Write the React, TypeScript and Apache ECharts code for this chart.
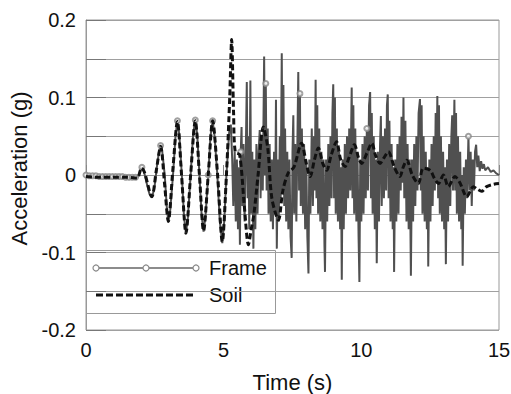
import React, { useEffect, useRef } from "react";
import * as echarts from "echarts";

// Soil acceleration record [time (s), acceleration (g)]
const soilData: [number, number][] = [
  [0, -0.002], [0.5, -0.003], [1.0, -0.003], [1.5, -0.003], [1.85, -0.004],
  [2.02, 0.009], [2.12, 0.004], [2.39, -0.028], [2.55, 0.005], [2.71, 0.037],
  [2.85, -0.01], [2.99, -0.06], [3.15, 0.005], [3.32, 0.069], [3.47, 0.0],
  [3.63, -0.075], [3.8, 0.0], [3.97, 0.07], [4.12, 0.0], [4.27, -0.072],
  [4.44, 0.0], [4.6, 0.07], [4.78, 0.0], [4.95, -0.086], [5.1, 0.0],
  [5.22, 0.1], [5.29, 0.175], [5.36, 0.08], [5.42, 0.03], [5.58, 0.026],
  [5.75, -0.04], [5.9, -0.09], [6.0, -0.07], [6.1, -0.05], [6.25, 0.0],
  [6.44, 0.062], [6.6, 0.035], [6.75, -0.03], [6.99, -0.058], [7.15, -0.02],
  [7.35, 0.003], [7.55, 0.01], [7.83, 0.041], [8.0, 0.015], [8.14, -0.002],
  [8.3, 0.02], [8.44, 0.035], [8.6, 0.015], [8.74, 0.006], [8.9, 0.025],
  [9.1, 0.043], [9.25, 0.02], [9.41, 0.011], [9.55, 0.022], [9.75, 0.039],
  [9.9, 0.022], [10.01, 0.015], [10.2, 0.028], [10.38, 0.041], [10.52, 0.025],
  [10.68, 0.015], [10.82, 0.022], [10.98, 0.03], [11.2, 0.01], [11.4, -0.002],
  [11.52, 0.01], [11.65, 0.019], [11.85, 0.0], [12.07, -0.011], [12.25, 0.009],
  [12.5, 0.006], [12.65, -0.004], [12.8, -0.011], [12.98, 0.0], [13.16, -0.015],
  [13.4, -0.002], [13.58, -0.01], [13.83, -0.028], [14.07, -0.015], [14.2, -0.018],
  [14.37, -0.021], [14.55, -0.015], [14.8, -0.012], [15.0, -0.011],
];

// Frame acceleration record [time (s), acceleration (g)]
const frameData: [number, number][] = [
  [0, 0], [0.3, -0.001], [0.6, -0.002], [0.9, -0.002], [1.2, -0.002], [1.5, -0.003],
  [1.8, -0.003], [1.9, -0.002], [1.97, 0.006], [2.03, 0.01], [2.1, 0.005], [2.2, -0.01],
  [2.3, -0.024], [2.39, -0.029], [2.48, -0.018], [2.58, 0.012], [2.65, 0.03], [2.71, 0.038],
  [2.77, 0.03], [2.86, 0.0], [2.93, -0.04], [2.99, -0.06], [3.06, -0.045], [3.16, 0.0],
  [3.25, 0.05], [3.32, 0.07], [3.39, 0.052], [3.48, 0.0], [3.56, -0.054], [3.63, -0.075],
  [3.7, -0.055], [3.8, 0.0], [3.89, 0.052], [3.97, 0.071], [4.04, 0.052], [4.12, 0.0],
  [4.2, -0.052], [4.27, -0.073], [4.34, -0.053], [4.44, 0.0], [4.52, 0.05], [4.6, 0.07],
  [4.67, 0.05], [4.77, 0.0], [4.86, -0.06], [4.95, -0.088], [5.02, -0.06], [5.1, 0.0],
  [5.2, 0.055], [5.26, 0.065], [5.31, 0.02], [5.35, -0.04], [5.4, 0.03], [5.44, -0.06],
  [5.48, 0.02], [5.52, -0.07], [5.56, 0.01], [5.59, -0.09], [5.62, 0.03], [5.65, 0.062],
  [5.68, -0.04], [5.72, 0.04], [5.76, -0.06], [5.8, 0.02], [5.84, 0.12], [5.87, -0.03],
  [5.9, 0.05], [5.93, -0.07], [5.97, 0.122], [6.0, -0.05], [6.04, 0.03], [6.08, -0.095],
  [6.11, 0.02], [6.15, -0.07], [6.19, 0.04], [6.23, -0.05], [6.27, 0.03], [6.31, 0.058],
  [6.34, -0.03], [6.38, 0.05], [6.42, -0.02], [6.47, 0.153], [6.5, 0.0], [6.53, 0.118],
  [6.56, -0.02], [6.6, 0.06], [6.63, -0.05], [6.67, 0.04], [6.71, -0.06], [6.75, 0.02],
  [6.79, -0.07], [6.83, 0.03], [6.87, -0.05], [6.9, 0.097], [6.93, -0.095], [6.97, 0.02],
  [7.0, -0.06], [7.04, 0.05], [7.07, -0.03], [7.11, 0.157], [7.14, -0.02], [7.17, 0.116],
  [7.2, -0.04], [7.23, 0.06], [7.27, -0.06], [7.31, 0.03], [7.35, -0.07], [7.39, 0.02],
  [7.43, -0.08], [7.47, -0.107], [7.5, 0.03], [7.53, 0.077], [7.56, -0.05], [7.6, 0.04],
  [7.64, -0.06], [7.68, 0.05], [7.71, 0.133], [7.74, -0.02], [7.77, 0.105], [7.8, -0.04],
  [7.84, 0.06], [7.88, -0.05], [7.92, 0.04], [7.96, -0.07], [8.0, 0.02], [8.04, -0.08],
  [8.08, -0.127], [8.11, 0.02], [8.15, -0.05], [8.2, 0.06], [8.24, -0.04], [8.28, 0.05],
  [8.31, -0.02], [8.34, 0.123], [8.37, -0.03], [8.4, 0.09], [8.43, -0.05], [8.47, 0.06],
  [8.51, -0.06], [8.55, 0.03], [8.59, -0.07], [8.63, 0.02], [8.66, -0.09], [8.68, -0.125],
  [8.72, 0.02], [8.76, -0.06], [8.8, 0.04], [8.84, -0.04], [8.88, 0.05], [8.92, -0.03],
  [8.95, 0.08], [8.98, 0.117], [9.01, -0.03], [9.04, 0.1], [9.07, -0.05], [9.11, 0.06],
  [9.15, -0.06], [9.19, 0.03], [9.23, -0.07], [9.26, 0.01], [9.29, -0.135], [9.32, 0.02],
  [9.36, -0.07], [9.4, 0.04], [9.44, -0.05], [9.48, 0.05], [9.52, -0.03], [9.56, 0.06],
  [9.6, -0.02], [9.65, 0.113], [9.68, -0.03], [9.71, 0.09], [9.74, -0.05], [9.78, 0.06],
  [9.82, -0.06], [9.86, 0.03], [9.9, -0.08], [9.93, -0.138], [9.96, 0.02], [10.0, -0.06],
  [10.04, 0.04], [10.08, -0.05], [10.12, 0.05], [10.16, -0.03], [10.2, 0.06], [10.24, -0.02],
  [10.28, 0.09], [10.32, 0.107], [10.35, -0.03], [10.38, 0.08], [10.41, -0.05], [10.45, 0.05],
  [10.49, -0.07], [10.53, 0.02], [10.56, -0.114], [10.6, 0.03], [10.64, -0.06], [10.68, 0.04],
  [10.71, 0.076], [10.74, -0.04], [10.78, 0.05], [10.82, -0.03], [10.86, 0.06], [10.9, -0.02],
  [10.93, 0.09], [10.96, 0.104], [10.99, -0.03], [11.02, 0.07], [11.06, -0.06], [11.1, 0.04],
  [11.14, -0.07], [11.17, 0.01], [11.19, -0.125], [11.23, 0.02], [11.27, -0.06], [11.31, 0.04],
  [11.35, -0.05], [11.39, 0.05], [11.43, -0.02], [11.46, 0.075], [11.5, -0.01], [11.53, 0.1],
  [11.56, -0.03], [11.6, 0.07], [11.64, -0.06], [11.68, 0.04], [11.72, -0.07], [11.76, 0.02],
  [11.8, -0.13], [11.84, 0.02], [11.88, -0.06], [11.92, 0.04], [11.96, -0.04], [12.0, 0.05],
  [12.04, -0.02], [12.08, 0.08], [12.13, 0.098], [12.16, -0.02], [12.19, 0.09], [12.22, -0.05],
  [12.26, 0.05], [12.3, -0.06], [12.34, 0.03], [12.38, -0.07], [12.41, 0.01], [12.43, -0.118],
  [12.47, 0.02], [12.51, -0.06], [12.55, 0.04], [12.59, -0.04], [12.63, 0.05], [12.67, -0.02],
  [12.7, 0.08], [12.73, -0.01], [12.76, 0.102], [12.79, -0.03], [12.82, 0.09], [12.85, -0.05],
  [12.89, 0.05], [12.93, -0.06], [12.97, 0.03], [13.01, -0.07], [13.04, 0.01], [13.07, -0.115],
  [13.11, 0.02], [13.15, -0.06], [13.19, 0.04], [13.23, -0.04], [13.27, 0.05], [13.3, 0.077],
  [13.33, -0.02], [13.38, 0.097], [13.41, -0.02], [13.44, 0.08], [13.47, -0.05], [13.51, 0.05],
  [13.55, -0.06], [13.59, 0.03], [13.63, -0.07], [13.66, 0.0], [13.68, -0.117], [13.72, 0.01],
  [13.76, -0.05], [13.8, 0.02], [13.84, -0.03], [13.89, 0.05], [13.93, -0.02], [13.97, 0.03],
  [14.01, -0.04], [14.05, 0.02], [14.09, -0.02], [14.13, 0.03], [14.17, 0.039], [14.21, 0.01],
  [14.25, 0.025], [14.3, 0.005], [14.35, 0.018], [14.4, 0.008], [14.45, 0.014], [14.5, 0.006],
  [14.6, 0.01], [14.7, 0.004], [14.8, 0.006], [14.9, 0.002], [15.0, 0.0],
];

// Sparse marker points on the Frame record
const frameMarkers: [number, number][] = [
  [0, 0], [0.12, -0.001], [0.24, -0.001], [0.36, -0.001], [0.48, -0.002], [0.6, -0.002],
  [0.72, -0.002], [0.84, -0.002], [0.96, -0.002], [1.08, -0.002], [1.2, -0.002],
  [1.32, -0.002], [1.44, -0.003], [1.56, -0.003], [1.68, -0.003], [1.8, -0.003],
  [2.03, 0.01], [2.71, 0.038], [3.32, 0.07], [3.97, 0.071], [4.44, 0.0], [4.6, 0.07],
  [5.62, 0.03], [6.53, 0.118], [7.77, 0.105], [10.2, 0.06], [13.89, 0.05],
];

const xTicks = [0, 5, 10, 15];

export default function App() {
  const ref = useRef<HTMLDivElement>(null);
  useEffect(() => {
    if (!ref.current) return;
    const chart = echarts.init(ref.current, undefined, { renderer: "svg" });
    const font = "Liberation Sans, Arial, sans-serif";
    chart.setOption({
      animation: false,
      backgroundColor: "#fff",
      grid: {
        left: 86, right: 12, top: 20, bottom: 64,
        outerBoundsMode: "none",
        containLabel: false,
        show: true, borderColor: "#999", borderWidth: 1,
      },
      xAxis: {
        type: "value",
        min: xTicks[0],
        max: xTicks[xTicks.length - 1],
        interval: 5,
        name: "Time (s)",
        nameLocation: "middle",
        nameGap: 41,
        nameTextStyle: { fontFamily: font, fontSize: 22, color: "#111" },
        axisLine: { show: true, lineStyle: { color: "#999", width: 1 } },
        axisTick: { show: true, inside: true, length: 10, lineStyle: { color: "#888" } },
        axisLabel: { fontFamily: font, fontSize: 20, color: "#111", margin: 10 },
        splitLine: { show: false },
      },
      yAxis: {
        type: "value",
        min: -0.2,
        max: 0.2,
        interval: 0.05,
        name: "Acceleration (g)",
        nameLocation: "middle",
        nameGap: 50,
        nameTextStyle: { fontFamily: font, fontSize: 22, color: "#111", padding: [0, 0, 0, 13] },
        axisLine: { show: true, lineStyle: { color: "#999", width: 1 } },
        axisTick: { show: true, inside: true, length: 20, lineStyle: { color: "#777" } },
        axisLabel: {
          fontFamily: font, fontSize: 20, color: "#111", margin: 10,
          formatter: (v: number) => {
            const k = Math.round(v * 100);
            if (k % 10 !== 0) return "";
            return k === 0 ? "0" : (k / 100).toFixed(1);
          },
        },
        splitLine: { show: true, lineStyle: { color: "#a0a0a0", width: 1 } },
      },
      series: [
        {
          name: "Frame",
          type: "line",
          data: frameData,
          showSymbol: false,
          lineStyle: { color: "#505050", width: 2 },
          z: 2,
        },
        {
          name: "FrameMarkers",
          type: "scatter",
          data: frameMarkers,
          symbol: "emptyCircle",
          symbolSize: 5,
          itemStyle: { color: "#888", borderColor: "#888", borderWidth: 1 },
          z: 3,
        },
        {
          name: "Soil",
          type: "line",
          data: soilData,
          showSymbol: false,
          smooth: 0.3,
          lineStyle: { color: "#111", width: 3, type: [6, 3] },
          z: 4,
        },
      ],
      graphic: [
        {
          type: "group",
          z: 100,
          children: [
            {
              type: "rect",
              shape: { x: 86.5, y: 250.5, width: 189, height: 63 },
              style: { fill: "#fff", stroke: "#999", lineWidth: 1 },
            },
            {
              type: "line",
              shape: { x1: 96, y1: 268, x2: 196, y2: 268 },
              style: { stroke: "#666", lineWidth: 1.5 },
            },
            { type: "circle", shape: { cx: 96, cy: 268, r: 3 }, style: { fill: "#fff", stroke: "#888", lineWidth: 1.2 } },
            { type: "circle", shape: { cx: 146, cy: 268, r: 3 }, style: { fill: "#fff", stroke: "#888", lineWidth: 1.2 } },
            { type: "circle", shape: { cx: 196, cy: 268, r: 3 }, style: { fill: "#fff", stroke: "#888", lineWidth: 1.2 } },
            {
              type: "text",
              x: 209, y: 268,
              style: { text: "Frame", fontFamily: font, fontSize: 20, fill: "#111", textVerticalAlign: "middle", verticalAlign: "middle" },
            },
            {
              type: "line",
              shape: { x1: 96, y1: 295, x2: 196, y2: 295 },
              style: { stroke: "#111", lineWidth: 3, lineDash: [7, 3] },
            },
            {
              type: "text",
              x: 209, y: 295,
              style: { text: "Soil", fontFamily: font, fontSize: 20, fill: "#111", textVerticalAlign: "middle", verticalAlign: "middle" },
            },
          ],
        },
      ],
    });
    return () => chart.dispose();
  }, []);
  return <div ref={ref} style={{ width: 511, height: 394, position: "absolute", left: 0, top: 0 }} />;
}
